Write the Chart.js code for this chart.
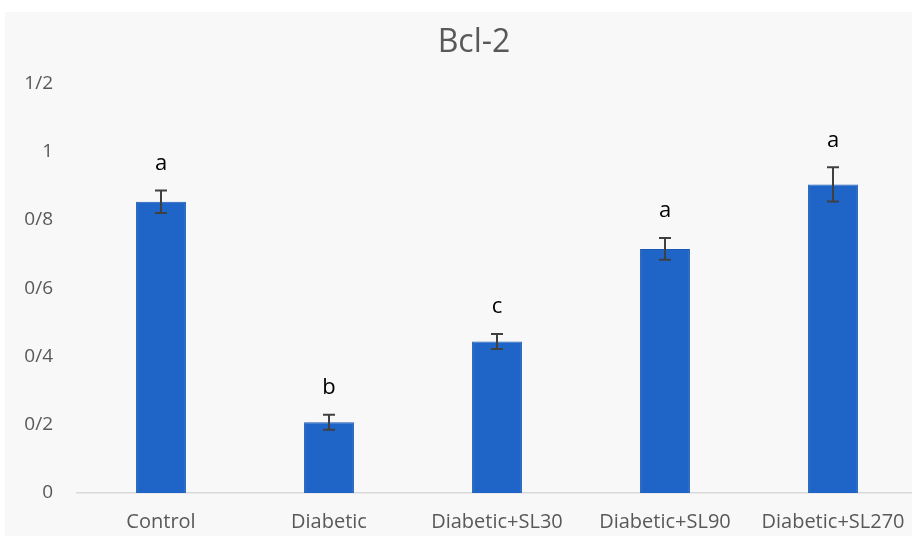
<!DOCTYPE html>
<html>
<head>
<meta charset="utf-8">
<script src="https://cdn.jsdelivr.net/npm/chart.js@4.4.0/dist/chart.umd.min.js"></script>
<style>
  html, body { margin: 0; padding: 0; background: #fff; overflow: hidden; }
  #wrap { position: absolute; left: 5px; top: 12px; width: 938px; height: 524px; background: #f8f8f8; }
</style>
</head>
<body>
<div id="wrap"><canvas id="chart" width="938" height="524"></canvas></div>
<script>
const categories = ['Control', 'Diabetic', 'Diabetic+SL30', 'Diabetic+SL90', 'Diabetic+SL270'];
const means = [0.853, 0.207, 0.444, 0.715, 0.904];
const errors = [0.033, 0.022, 0.022, 0.032, 0.050];
const letters = ['a', 'b', 'c', 'a', 'a'];
const tickValues = [0, 0.2, 0.4, 0.6, 0.8, 1, 1.2];
const tickLabels = ['0', '0/2', '0/4', '0/6', '0/8', '1', '1/2'];

// error bars plus the letters above them
const errorBarPlugin = {
  id: 'errorBars',
  afterLayout(chart) {
    // title sits a bit right of the plot centre in the original
    chart.titleBlock.left += 26;
  },
  afterDatasetsDraw(chart) {
    const ctx = chart.ctx;
    const y = chart.scales.y;
    const meta = chart.getDatasetMeta(0);
    ctx.save();
    meta.data.forEach((bar, i) => {
      const x = bar.x;
      const top = y.getPixelForValue(means[i] + errors[i]);
      const bottom = y.getPixelForValue(means[i] - errors[i]);
      ctx.strokeStyle = '#404040';
      ctx.lineWidth = 2;
      ctx.beginPath();
      ctx.moveTo(x, top); ctx.lineTo(x, bottom);
      ctx.moveTo(x - 6, top); ctx.lineTo(x + 6, top);
      ctx.moveTo(x - 6, bottom); ctx.lineTo(x + 6, bottom);
      ctx.stroke();
      ctx.fillStyle = '#000';
      ctx.font = '500 22px "Open Sans"';
      ctx.textAlign = 'center';
      ctx.textBaseline = 'middle';
      ctx.fillText(letters[i], x, top - 27);
    });
    ctx.restore();
  }
};

new Chart(document.getElementById('chart'), {
  type: 'bar',
  data: {
    labels: categories,
    datasets: [{
      data: means,
      backgroundColor: '#1f65c8',
      borderColor: '#1a58b4',
      borderWidth: 1,
      barPercentage: 0.297,
      categoryPercentage: 1
    }]
  },
  options: {
    responsive: false,
    animation: false,
    layout: { padding: { left: 0, right: 26, top: 0, bottom: 5 } },
    plugins: {
      legend: { display: false },
      tooltip: { enabled: false },
      title: {
        display: true,
        text: 'Bcl-2',
        color: '#595959',
        font: { family: 'Open Sans', size: 32, weight: 'normal' },
        padding: { top: 12, bottom: 21 }
      }
    },
    scales: {
      x: {
        afterFit(scale) { scale.height = 38; },
        grid: { display: false, drawTicks: false },
        border: { display: true, color: '#d9d9d9', width: 1.5 },
        ticks: { color: '#595959', font: { family: 'Open Sans', size: 20 }, padding: 17, maxRotation: 0 }
      },
      y: {
        min: 0,
        max: 1.2,
        afterFit(scale) { scale.width = 72; },
        afterBuildTicks(scale) { scale.ticks = tickValues.map(v => ({ value: v })); },
        grid: { display: false, drawTicks: false },
        border: { display: false },
        ticks: {
          color: '#595959',
          font: { family: 'Open Sans', size: 19 },
          padding: 24,
          callback: (v) => tickLabels[tickValues.indexOf(v)] ?? ''
        }
      }
    }
  },
  plugins: [errorBarPlugin]
});
</script>
</body>
</html>
